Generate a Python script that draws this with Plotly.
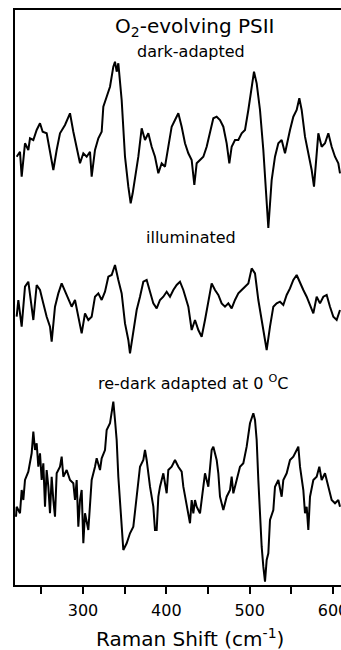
import plotly.graph_objects as go

# Raman shift (cm-1) sample positions and relative intensities (arbitrary units)
wn_dark = [220.4, 224.4, 226.4, 230.4, 234.4, 236.4, 240.4, 244.4, 248.4, 251.6, 256.4, 260.4, 264.4, 268.4,
           272.4, 278.4, 284.4, 288.4, 292.4, 296.4, 300.4, 304.4, 308.4, 310.4, 314.4, 318.4, 322.4, 324.4,
           328.4, 332.4, 336.4, 338.4, 340.4, 342.4, 346.4, 350.4, 354.4, 357.2, 359.6, 362.4, 366.4, 370.4,
           374.4, 378.4, 382.4, 386.4, 390.4, 394.4, 398.4, 402.4, 406.4, 410.4, 414.4, 418.4, 422.4, 426.4,
           430.4, 433.6, 436.4, 440.4, 444.4, 448.4, 452.4, 456.4, 460.4, 464.4, 468.4, 472.4, 475.6, 478.4,
           482.4, 486.4, 490.4, 494.4, 498.4, 502.4, 505.2, 508.4, 512.4, 516.4, 519.6, 522.4, 526.4, 530.4,
           534.4, 538.4, 542.4, 545.2, 548.4, 552.4, 556.4, 559.6, 562.4, 566.4, 570.4, 574.4, 577.2, 579.6,
           582.4, 586.4, 590.4, 594.4, 598.4, 602.4, 606.4, 608.4]
int_dark = [-6.7, -1.7, -26.7, 6.7, 0, 11.7, 10, 20, 26.7, 18.3, 16.7, 0, -20, 0,
            16.7, 25, 36.7, 18.3, 3.3, -13.3, -3.3, -6.7, -1.7, -26.7, 0, 11.7, 18.3, 43.3,
            53.3, 63.3, 83.3, 88.3, 78.3, 86.7, 50, -6.7, -36.7, -53.3, -43.3, -30, -6.7, 21.7,
            10, 16.7, 3.3, -6.7, -23.3, -13.3, -16.7, 3.3, 23.3, 30, 36.7, 23.3, 6.7, -3.3,
            -10, -35, -13.3, -10, -6.7, 3.3, 16.7, 31.7, 33.3, 30, 23.3, 6.7, -13.3, 3.3,
            10, 10, 16.7, 20, 40, 60, 78.3, 66.7, 40, 0, -43.3, -78, -30, -6.7,
            6.7, 10, -3.3, 8.3, 20, 33.3, 40, 51.7, 40, 13.3, -3.3, -20, -36.7, -10,
            16.7, 3.3, 6.7, 16.7, 3.3, -6.7, -13.3, -23.3]

wn_illum = [220.4, 222.4, 226.4, 230.4, 234.4, 236.4, 240.4, 244.4, 248.4, 252.4, 256.4, 260.4, 262.4, 266.4,
            270.4, 274.4, 278.4, 282.4, 286.4, 290.4, 294.4, 298.4, 302.4, 306.4, 310.4, 314.4, 318.4, 322.4,
            326.4, 330.4, 334.4, 338.4, 342.4, 346.4, 350.4, 354.4, 356.4, 360.4, 364.4, 368.4, 372.4, 376.4,
            380.4, 384.4, 388.4, 392.4, 396.4, 400.4, 404.4, 408.4, 412.4, 416.4, 420.4, 426.4, 430.4, 434.4,
            438.4, 442.4, 446.4, 450.4, 454.4, 458.4, 462.4, 466.4, 470.4, 474.4, 478.4, 482.4, 486.4, 490.4,
            494.4, 498.4, 502.4, 506.4, 510.4, 514.4, 518.4, 520.4, 524.4, 528.4, 532.4, 536.4, 540.4, 544.4,
            548.4, 552.4, 556.4, 560.4, 564.4, 568.4, 572.4, 576.4, 580.4, 584.4, 588.4, 592.4, 596.4, 600.4,
            604.4, 608.4]
int_illum = [-20, -3.3, -30, 10, 15, 0, -23.3, 11.7, 6.7, -6.7, -20, -30, -45, -10,
             3.3, 13.3, 5, -1.7, -10, -3.3, -20, -36.7, -16.7, -23.3, -20, 0, 3.3, -3.3,
             5, 20, 21.7, 31.7, 16.7, 3.3, -26.7, -43.3, -56.7, -36.7, -13.3, 0, 15, 16.7,
             5, -6.7, -11.7, -3.3, 0, 5, 0, 6.7, 11.7, 15, 6.7, -10, -33.3, -23.3,
             -33.3, -40, -23.3, -6.7, 13.3, 6.7, 1.7, -6.7, -10, -6.7, -11.7, -3.3, 3.3, 6.7,
             10, 13.3, 28.3, 23.3, -3.3, -23.3, -43.3, -53.3, -30, -10, -6.7, -5, -8.3, 1.7,
             8.3, 16.7, 21.7, 13.3, 6.7, 0, -8.3, -16.7, 0, -6.7, 0, 1.7, -10, -20,
             -23.3, -13.3]

wn_redark = [219.6, 220.4, 224.4, 226.4, 228.4, 230.4, 234.4, 238.4, 240.4, 242.4, 244.4, 246.4, 248.4, 250.4,
             252.4, 254.4, 256.4, 258.4, 260.4, 262.4, 264.4, 266.4, 268.4, 272.4, 274.4, 276.4, 280.4, 284.4,
             288.4, 290.4, 292.4, 294.4, 296.4, 298.4, 300.4, 302.4, 306.4, 308.4, 310.4, 314.4, 316.4, 320.4,
             322.4, 326.4, 328.4, 332.4, 334.4, 336.4, 338.4, 340.4, 342.4, 344.4, 348.4, 352.4, 356.4, 360.4,
             364.4, 368.4, 372.4, 374.4, 376.4, 380.4, 384.4, 386.4, 388.4, 390.4, 392.4, 396.4, 400.4, 402.4,
             406.4, 410.4, 414.4, 418.4, 420.4, 424.4, 426.4, 428.4, 430.4, 432.4, 434.4, 436.4, 440.4, 444.4,
             446.4, 450.4, 454.4, 456.4, 460.4, 462.4, 464.4, 468.4, 472.4, 476.4, 478.4, 480.4, 484.4, 488.4,
             492.4, 496.4, 500.4, 504.4, 506.4, 508.4, 510.4, 512.4, 514.4, 516.4, 518.4, 520.4, 522.4, 524.4,
             528.4, 530.4, 534.4, 538.4, 540.4, 544.4, 548.4, 552.4, 556.4, 558.4, 560.4, 564.4, 566.4, 568.4,
             570.4, 572.4, 576.4, 580.4, 583.6, 586.4, 590.4, 594.4, 598.4, 602.4, 606.4, 608.4]
int_redark = [-26.7, -16.7, -23.3, 0, -10, 10, 18.3, 36.7, 58.3, 40, 46.7, 23.3, 36.7, 10,
              26.7, -16.7, 20, 3.3, -23.3, 13.3, -10, -26.7, 16.7, 23.3, 33.3, 13.3, 20, 10,
              6.7, -10, 10, -36.7, -10, 0, -53.3, -23.3, -40, -10, 10, 23.3, 31.7, 20,
              31.7, 40, 60, 66.7, 80, 88.3, 70, 50, 13.3, -10, -60, -53.3, -43.3, -36.7,
              -6.7, 23.3, 30, 40, 30, 3.3, -16.7, -40, -40, -6.7, 3.3, 16.7, -3.3, 20,
              23.3, 30, 23.3, 18.3, 3.3, -13.3, -23.3, -33.3, -10, -23.3, -10, -16.7, -23.3, 3.3,
              16.7, 3.3, 40, 43.3, 30, 16.7, -6.7, -20, -6.7, 0, 13.3, -3.3, 10, 23.3,
              26.7, 43.3, 66.7, 76.7, 70, 50, 10, -26.7, -56.7, -76.7, -91.7, -70, -63.3, -30,
              -20, 3.3, 10, -6.7, 10, 16.7, 30, 33.3, 40, 43.3, 23.3, 0, -23.3, -16.7,
              -40, -6.7, 10, 13.3, 23.3, 10, 16.7, 3.3, -10, -13.3, -10, -16.7]

trace_labels = ["dark-adapted", "illuminated", "re-dark adapted at 0 <sup>O</sup>C"]
trace_offsets = [435, 288.3, 95]
tick_values = [250, 300, 350, 400, 450, 500, 550, 600]
tick_labels = ["", "300", "", "400", "", "500", "", "600"]

FONT = "DejaVu Sans"
fig = go.Figure()
series = [(wn_dark, int_dark), (wn_illum, int_illum), (wn_redark, int_redark)]
for (xs, ys), off in zip(series, trace_offsets):
    fig.add_trace(go.Scatter(x=xs, y=[v + off for v in ys], mode="lines",
                             line=dict(color="black", width=2), showlegend=False, hoverinfo="skip"))

fig.update_layout(
    width=341, height=650,
    margin=dict(l=15, r=0, t=10, b=65),
    paper_bgcolor="white", plot_bgcolor="white",
    font=dict(family=FONT, color="black"),
    xaxis=dict(range=[218.4, 609.6], showgrid=False, zeroline=False, showline=True, linecolor="black",
               linewidth=2, mirror=True, ticks="outside", ticklen=7, tickwidth=2, tickcolor="black",
               tickvals=tick_values, ticktext=tick_labels, tickfont=dict(size=16, family=FONT),
               ticklabelstandoff=3, ticklabeloverflow="allow", automargin=False),
    yaxis=dict(range=[0, 575], showgrid=False, zeroline=False, showline=True, linecolor="black",
               linewidth=2, showticklabels=False, ticks="", automargin=False),
)

fig.add_annotation(x=0.552, y=(585 - 27) / 575, xref="paper", yref="paper", showarrow=False,
                   yanchor="middle", text="O<sub>2</sub>-evolving PSII", font=dict(size=20, family=FONT))
label_y = [(585 - 52) / 575, (585 - 237) / 575, (585 - 382) / 575]
label_x = [0.541, 0.541, 0.546]
for t, xp, yp in zip(trace_labels, label_x, label_y):
    fig.add_annotation(x=xp, y=yp, xref="paper", yref="paper", showarrow=False, text=t,
                       yanchor="middle", font=dict(size=16, family=FONT))
fig.add_annotation(x=(190 - 15) / 326, y=(585 - 638) / 575, xref="paper", yref="paper", showarrow=False,
                   yanchor="middle", text="Raman Shift (cm<sup>-1</sup>)", font=dict(size=20, family=FONT))

fig.write_html("out.html")
